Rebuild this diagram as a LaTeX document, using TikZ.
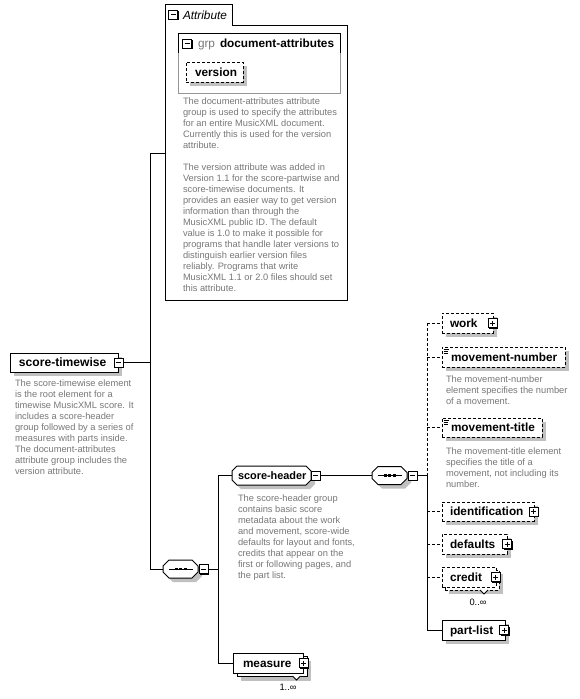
\documentclass[tikz,border=0pt]{standalone}
\usepackage{fontspec}
\setmainfont{Liberation Sans}
\usetikzlibrary{shadows}
\definecolor{descgray}{RGB}{120,120,120}
\definecolor{shadowgray}{RGB}{192,192,192}
\definecolor{boxgray}{RGB}{150,150,150}
\newcommand\octpath[5]{(#1+#5,#2) -- (#3-#5,#2) -- (#3,#2+#5) -- (#3,#4-#5) -- (#3-#5,#4) -- (#1+#5,#4) -- (#1,#4-#5) -- (#1,#2+#5) -- cycle}
\newcommand\octdraw[5]{%
  \fill[shadowgray] \octpath{#1+4}{#2+4}{#3+4}{#4+4}{#5};
  \draw[fill=white] \octpath{#1}{#2}{#3}{#4}{#5};}
\begin{document}
\begin{tikzpicture}[x=1pt,y=-1pt,line width=1pt,
  every node/.style={inner sep=0pt,outer sep=0pt},
  elem/.style={draw=black,fill=white,rectangle,anchor=north west},
  shad/.style={general shadow={shadow xshift=4pt,shadow yshift=-4pt,fill=shadowgray,draw=none}},
  opt/.style={dash pattern=on 3pt off 2pt},
  stackopt/.style={general shadow={shadow xshift=7pt,shadow yshift=-7pt,fill=shadowgray,draw=none},
                   general shadow={shadow xshift=3pt,shadow yshift=-3pt,fill=white,draw=black,dash pattern=on 3pt off 2pt}},
  stack/.style={general shadow={shadow xshift=8pt,shadow yshift=-8pt,fill=shadowgray,draw=none},
                general shadow={shadow xshift=4pt,shadow yshift=-3pt,fill=white,draw=black}},
  iconbase/.style={draw=black,fill=white,minimum size=9pt,
                   general shadow={shadow xshift=1pt,shadow yshift=-1pt,fill=black,draw=none}},
  minusicon/.style={iconbase,path picture={\draw[line width=1pt] ([xshift=2pt]path picture bounding box.west) -- ([xshift=-2pt]path picture bounding box.east);}},
  plusicon/.style={iconbase,path picture={\draw[line width=1pt] ([xshift=2pt]path picture bounding box.west) -- ([xshift=-2pt]path picture bounding box.east);
                   \draw[line width=1pt] ([yshift=-2pt]path picture bounding box.north) -- ([yshift=2pt]path picture bounding box.south);}},
  lbl/.style={anchor=west,font=\fontsize{11.8}{14}\selectfont\bfseries,text height=8.45pt,text depth=0pt},
  desc/.style={anchor=north west,align=left,font=\fontsize{9.3}{11}\selectfont,text=descgray},
  card/.style={font=\fontsize{9.3}{11}\selectfont},
]
\useasboundingbox[fill=white] (0,0) rectangle (580,699);

% ---------- Attribute container ----------
\draw (165,300) -- (165,4) -- (232,4) -- (232,25) -- (347,25) -- (347,300) -- cycle;
\node[minimum width=182pt,minimum height=275pt,anchor=north west] (attrbox) at (165,25) {};
\node[minusicon] (attricon) at (173,14.5) {};
\node[anchor=west,font=\fontsize{11.8}{14}\selectfont\itshape,text height=8.45pt,text depth=0pt] (attrlbl) at (183,15) {Attribute};

% attribute group box
\draw[boxgray] (178,33) rectangle (340,93);
\draw (178,53) -- (178,33) -- (340,33) -- (340,53);
\node[minusicon] (grpicon) at (187,43.5) {};
\node[lbl,font=\fontsize{11.8}{14}\selectfont,text=descgray] (grplbl) at (198,43.5) {grp};
\node[lbl] (grpname) at (220,43.5) {document-attributes};

\node[elem,opt,shad,minimum width=57pt,minimum height=20pt] (version) at (186,62) {};
\node[lbl] (versionlbl) at (195,72) {version};

\node[desc] (attrdesc) at (183,96.3) {\strut The document-attributes attribute\\
group is used to specify the attributes\\
for an entire MusicXML document.\\
Currently this is used for the version\\
attribute.\\[11pt]
The version attribute was added in\\
Version 1.1 for the score-partwise and\\
score-timewise documents. It\\
provides an easier way to get version\\
information than through the\\
MusicXML public ID. The default\\
value is 1.0 to make it possible for\\
programs that handle later versions to\\
distinguish earlier version files\\
reliably. Programs that write\\
MusicXML 1.1 or 2.0 files should set\\
this attribute.};

% ---------- score-timewise ----------
\node[elem,shad,minimum width=108pt,minimum height=19pt] (st) at (10,353) {};
\node[lbl,font=\fontsize{12.1}{14}\selectfont\bfseries] (stlbl) at (19,362.5) {score-timewise};
\node[minusicon] (sticon) at (118.5,362.5) {};
\node[desc] (stdesc) at (15,378.3) {\strut The score-timewise element\\
is the root element for a\\
timewise MusicXML score. It\\
includes a score-header\\
group followed by a series of\\
measures with parts inside.\\
The document-attributes\\
attribute group includes the\\
version attribute.};

% ---------- sequence 1 ----------
\octdraw{163}{560}{198}{578}{6}
\node[minimum width=35pt,minimum height=18pt] (seq1) at (180.5,569) {};
\draw ([xshift=-12pt]seq1.center) -- ([xshift=12pt]seq1.center);
\foreach \dx in {-4.5,0,4.5} \fill ([xshift=\dx pt]seq1.center) +(-1.5,-1.2) rectangle +(1.5,1.2);
\node[minusicon] (seq1icon) at (203.5,569) {};

% ---------- score-header ----------
\octdraw{232}{466}{311}{485}{5}
\node[minimum width=79pt,minimum height=19pt] (sh) at (271.5,475.5) {};
\node[lbl,font=\fontsize{10.9}{14}\selectfont\bfseries] (shlbl) at (238,475.5) {score-header};
\node[minusicon] (shicon) at (315.5,475.5) {};
\node[desc] (shdesc) at (238,493.3) {\strut The score-header group\\
contains basic score\\
metadata about the work\\
and movement, score-wide\\
defaults for layout and fonts,\\
credits that appear on the\\
first or following pages, and\\
the part list.};

% ---------- sequence 2 ----------
\octdraw{372}{466.5}{407}{484.5}{6}
\node[minimum width=35pt,minimum height=18pt] (seq2) at (389.5,475.5) {};
\draw ([xshift=-12pt]seq2.center) -- ([xshift=12pt]seq2.center);
\foreach \dx in {-4.5,0,4.5} \fill ([xshift=\dx pt]seq2.center) +(-1.5,-1.2) rectangle +(1.5,1.2);
\node[minusicon] (seq2icon) at (412.5,475.5) {};

% ---------- measure ----------
\node[elem,stack,minimum width=70pt,minimum height=20pt] (measure) at (233,653) {};
\node[lbl] (measurelbl) at (243,663) {measure};
\node[plusicon] (measureicon) at (303.5,663) {};
\draw[fill=white,line width=0.8pt] (292.5,676) -- (296.5,680) -- (300.5,676);
\node[card] (measurecard) at (288,687) {1..∞};

% ---------- children of score-header ----------
\node[elem,opt,shad,minimum width=51pt,minimum height=20pt] (work) at (442,313) {};
\node[lbl] (worklbl) at (450,323) {work};
\node[plusicon] (workicon) at (492.5,323) {};

\node[elem,opt,shad,minimum width=123pt,minimum height=20pt] (mn) at (442,347) {};
\node[lbl] (mnlbl) at (451,357) {movement-number};
\draw[line width=0.8pt] (443.5,349.5) -- (449,349.5) (443.5,351.5) -- (448,351.5) (443.5,353.5) -- (448,353.5);
\node[desc] (mndesc) at (446,374.3) {\strut The movement-number\\
element specifies the number\\
of a movement.};

\node[elem,opt,shad,minimum width=100pt,minimum height=19pt] (mt) at (442,418) {};
\node[lbl] (mtlbl) at (451,427.5) {movement-title};
\draw[line width=0.8pt] (443.5,420.5) -- (449,420.5) (443.5,422.5) -- (448,422.5) (443.5,424.5) -- (448,424.5);
\node[desc] (mtdesc) at (446,446.3) {\strut The movement-title element\\
specifies the title of a\\
movement, not including its\\
number.};

\node[elem,opt,shad,minimum width=92pt,minimum height=19pt] (ident) at (442,502) {};
\node[lbl] (identlbl) at (450,511.5) {identification};
\node[plusicon] (identicon) at (533.5,511.5) {};

\node[elem,opt,shad,minimum width=65pt,minimum height=20pt] (defaults) at (442,534) {};
\node[lbl] (defaultslbl) at (450,544) {defaults};
\node[plusicon] (defaultsicon) at (507,544) {};

\node[elem,opt,stackopt,minimum width=54pt,minimum height=20pt] (credit) at (442,567) {};
\node[lbl] (creditlbl) at (450,577) {credit};
\node[plusicon] (crediticon) at (495.5,577) {};
\draw[fill=white,line width=0.8pt] (480,590) -- (484,594) -- (488,590);
\node[card] (creditcard) at (478,602) {0..∞};

\node[elem,shad,minimum width=63pt,minimum height=20pt] (pl) at (442,620) {};
\node[lbl] (pllbl) at (450,630) {part-list};
\node[plusicon] (plicon) at (504,630) {};

% ---------- connectors ----------
\coordinate (j1top) at (150,153);
\coordinate (j1bot) at (150,569);
\draw (sticon.east) -- (sticon.east -| j1top);
\draw (attrbox.west |- j1top) -- (j1top) -- (j1bot) -- (seq1.west);

\coordinate (j2top) at (218,475.5);
\coordinate (j2bot) at (218,663);
\draw (seq1icon.east) -- (seq1icon.east -| j2top);
\draw (sh.west) -- (j2top) -- (j2bot) -- (measure.west |- j2bot);

\draw (shicon.east) -- (seq2.west);
\coordinate (j3) at (427,475.5);
\draw (seq2icon.east) -- (j3);
\draw[opt] (work.west -| j3) -- (j3);
\draw (j3) -- (pl.west -| j3);
\draw[opt] (work.west -| j3) -- (work.west);
\draw[opt] (mn.west -| j3) -- (mn.west);
\draw[opt] (mt.west -| j3) -- (mt.west);
\draw[opt] (ident.west -| j3) -- (ident.west);
\draw[opt] (defaults.west -| j3) -- (defaults.west);
\draw[opt] (credit.west -| j3) -- (credit.west);
\draw (pl.west -| j3) -- (pl.west);
\end{tikzpicture}
\end{document}
